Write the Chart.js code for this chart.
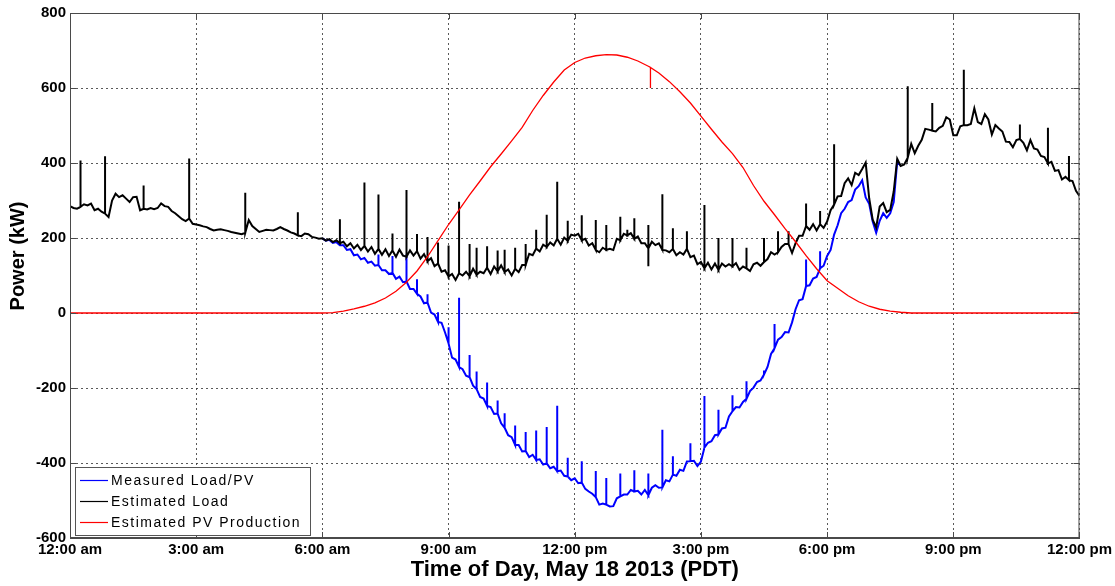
<!DOCTYPE html>
<html>
<head>
<meta charset="utf-8">
<title>Power, May 18 2013</title>
<script src="https://cdn.jsdelivr.net/npm/chart.js@4.4.1/dist/chart.umd.min.js"></script>
<style>
  html, body { margin: 0; padding: 0; background: #fff; }
  canvas { display: block; }
</style>
</head>
<body>
<canvas id="powerChart" width="1115" height="586"></canvas>
<script>
// x axis is hours since midnight, ticks every 3 h
const timeTicks = [0, 3, 6, 9, 12, 15, 18, 21, 24];
const timeLabels = ["12:00 am", "3:00 am", "6:00 am", "9:00 am", "12:00 pm", "3:00 pm", "6:00 pm", "9:00 pm", "12:00 pm"];
const powerTicks = [-600, -400, -200, 0, 200, 400, 600, 800];

// estimated load, one value every 5 minutes from 12:00 am (kW)
const loadStartMin = 0;
const loadKW = [
  285, 280, 278, 283, 290, 287, 292, 274, 278, 270, 265, 256,
  300, 318, 309, 314, 305, 296, 309, 310, 274, 278, 276, 280,
  277, 280, 292, 285, 283, 272, 266, 258, 250, 245, 252, 238,
  236, 234, 231, 229, 224, 220, 222, 223, 221, 219, 216, 214,
  212, 210, 214, 248, 232, 224, 216, 219, 222, 221, 220, 224,
  229, 224, 220, 215, 212, 207, 205, 212, 210, 203, 201, 198,
  199, 193, 197, 189, 194, 186, 190, 178, 186, 172, 182, 168,
  179, 164, 176, 158, 171, 155, 170, 152, 167, 150, 169, 153,
  150, 167, 153, 165, 145, 157, 138, 146, 125, 132, 110, 114,
  97, 104, 88, 106, 100, 110, 98, 118, 102, 110, 106, 121,
  104, 124, 111, 127, 109, 116, 100, 118, 109, 128, 128, 158,
  154, 172, 164, 182, 176, 188, 180, 198, 182, 201, 192, 209,
  206, 211, 194, 198, 180, 186, 168, 162, 174, 168, 171, 168,
  198, 194, 211, 207, 213, 198, 204, 186, 186, 172, 190, 181,
  186, 168, 167, 162, 171, 154, 162, 156, 171, 149, 153, 130,
  136, 119, 134, 116, 132, 115, 132, 124, 130, 124, 133, 115,
  124, 119, 112, 130, 134, 126, 136, 144, 162, 156, 162, 176,
  184, 184, 160, 186, 206, 206, 232, 222, 237, 220, 237, 227,
  244, 274, 289, 311, 312, 346, 359, 341, 374, 368, 384, 401,
  306, 249, 228, 284, 293, 269, 275, 324, 411, 392, 396, 414,
  451, 426, 446, 462, 491, 489, 486, 484, 494, 499, 522, 516,
  474, 474, 498, 501, 501, 504, 546, 509, 504, 530, 516, 476,
  501, 492, 484, 457, 456, 442, 461, 464, 454, 434, 461, 439,
  436, 419, 416, 399, 403, 379, 381, 356, 363, 354, 352, 326,
  312
];
// short load events (minute of day, peak kW)
const loadSpikeMin = [15, 50, 105, 170, 250, 325, 385, 420, 440, 460, 480, 495, 510, 525, 540, 555, 570, 580, 595, 610, 620, 635, 650, 665, 680, 695, 710, 730, 750, 765, 785, 795, 805, 825, 825, 845, 860, 880, 905, 925, 945, 965, 990, 1010, 1025, 1050, 1070, 1090, 1195, 1230, 1275, 1355, 1395, 1425];
const loadSpikeKW = [407, 418, 340, 412, 321, 269, 250, 348, 316, 212, 328, 211, 203, 188, 180, 297, 184, 174, 178, 167, 169, 174, 184, 222, 262, 350, 246, 261, 248, 235, 257, 222, 253, 235, 125, 317, 226, 218, 288, 200, 200, 174, 200, 218, 218, 292, 272, 450, 605, 560, 649, 503, 494, 419];

// measured net load/PV, every 5 minutes from 6:00 am (kW)
const measuredStartMin = 360;
const measuredKW = [
  199, 193, 195, 187, 189, 181, 181, 168, 170, 154, 156, 143,
  147, 134, 137, 126, 128, 114, 114, 104, 107, 91, 97, 82,
  84, 64, 64, 51, 44, 26, 28, 1, -4, -24, -26, -52,
  -81, -119, -124, -144, -150, -167, -171, -194, -203, -224, -228, -248,
  -251, -269, -268, -294, -306, -326, -331, -352, -352, -369, -368, -384,
  -378, -392, -390, -404, -401, -414, -410, -422, -420, -434, -436, -446,
  -441, -454, -452, -469, -476, -482, -491, -511, -508, -511, -516, -515,
  -494, -489, -484, -484, -472, -476, -474, -484, -472, -486, -466, -459,
  -466, -465, -446, -449, -431, -434, -418, -421, -396, -395, -394, -408,
  -396, -359, -346, -342, -326, -324, -308, -306, -276, -262, -251, -252,
  -237, -229, -208, -199, -184, -180, -164, -144, -109, -94, -71, -64,
  -51, -52, -25, 10, 34, 37, 72, 74, 92, 96, 119, 126,
  152, 168, 209, 234, 266, 278, 296, 301, 329, 338, 354, 308,
  291, 244, 214, 246, 266, 254, 266, 296, 404, 392
];
const measuredSpikeMin = [440, 460, 480, 495, 510, 525, 540, 555, 570, 580, 595, 610, 620, 635, 650, 665, 680, 695, 710, 730, 750, 765, 785, 805, 825, 845, 860, 885, 905, 925, 945, 965, 990, 1005, 1050, 1070];
const measuredSpikeKW = [156, 152, 156, 90, 50, 2, -38, 41, -112, -156, -185, -233, -267, -300, -317, -313, -304, -247, -386, -395, -421, -440, -428, -419, -428, -311, -382, -347, -221, -258, -219, -182, -153, -29, 143, 165];

// estimated PV production (hour of day, kW)
const pvHours = [0, 6, 6.25, 6.5, 6.75, 7, 7.25, 7.5, 7.75, 8, 8.25, 8.5, 8.75, 9, 9.25, 9.5, 9.75, 10, 10.25, 10.5, 10.75, 11, 11.25, 11.5, 11.75, 12, 12.25, 12.5, 12.75, 13, 13.25, 13.5, 13.75, 13.8, 13.8, 13.8, 14, 14.25, 14.5, 14.75, 15, 15.25, 15.5, 15.75, 16, 16.25, 16.5, 16.75, 17, 17.25, 17.5, 17.75, 18, 18.25, 18.5, 18.75, 19, 19.25, 19.5, 19.75, 20, 24];
const pvKW = [0, 0, 1, 5, 11, 18, 27, 40, 58, 82, 112, 150, 193, 236, 275, 315, 352, 390, 424, 459, 495, 540, 580, 616, 648, 668, 680, 686, 689, 688, 682, 672, 658, 655, 600, 655, 640, 617, 590, 560, 525, 490, 456, 425, 388, 340, 298, 262, 225, 190, 153, 118, 86, 66, 46, 30, 18, 10, 5, 2, 0, 0];

const FONT = "'Liberation Sans', Arial, Helvetica, sans-serif";
const AXIS_COLOR = "#4a4a4a";

// 5-minute samples -> points, with each spike drawn as a vertical stroke
function toPoints(startMin, values, spikeMin, spikeKW) {
    const pts = [];
    values.forEach((v, i) => {
        const m = startMin + i * 5;
        pts.push({ x: m / 60, y: v });
        spikeMin.forEach((s, j) => {
            if (s === m) {
                pts.push({ x: m / 60, y: spikeKW[j] });
                pts.push({ x: m / 60, y: v });
            }
        });
    });
    return pts;
}

const pvPoints = pvHours.map((h, i) => ({ x: h, y: pvKW[i] }));

// frame, inward ticks, y label and legend
const axesExtras = {
    id: "axesExtras",
    afterDraw(chart) {
        const { ctx, chartArea: a, scales } = chart;
        ctx.save();

        ctx.strokeStyle = AXIS_COLOR;
        ctx.lineWidth = 1;
        ctx.strokeRect(a.left + 0.5, a.top + 0.5, a.right - a.left - 1, a.bottom - a.top - 1);

        ctx.beginPath();
        powerTicks.forEach((v) => {
            const y = Math.round(scales.y.getPixelForValue(v)) + 0.5;
            ctx.moveTo(a.left, y); ctx.lineTo(a.left + 6, y);
            ctx.moveTo(a.right - 6, y); ctx.lineTo(a.right, y);
        });
        timeTicks.forEach((v) => {
            const x = Math.round(scales.x.getPixelForValue(v)) + 0.5;
            ctx.moveTo(x, a.bottom); ctx.lineTo(x, a.bottom - 6);
            ctx.moveTo(x, a.top); ctx.lineTo(x, a.top + 6);
        });
        ctx.stroke();

        // y axis label
        ctx.save();
        ctx.translate(18, 256);
        ctx.rotate(-Math.PI / 2);
        ctx.fillStyle = "#000";
        ctx.font = "bold 20px " + FONT;
        ctx.textAlign = "center";
        ctx.textBaseline = "middle";
        ctx.fillText("Power (kW)", 0, 0);
        ctx.restore();

        // legend box, lower left
        const bx = a.left + 5, by = a.bottom - 71, bw = 235, bh = 68;
        ctx.fillStyle = "#fff";
        ctx.fillRect(bx, by, bw, bh);
        ctx.strokeStyle = "#555";
        ctx.strokeRect(bx + 0.5, by + 0.5, bw, bh);
        ctx.font = "14px " + FONT;
        ctx.letterSpacing = "1.5px";
        ctx.textBaseline = "middle";
        ctx.textAlign = "left";
        chart.data.datasets.forEach((ds, i) => {
            const y = by + 13 + i * 21;
            ctx.strokeStyle = ds.borderColor;
            ctx.lineWidth = 1.2;
            ctx.beginPath();
            ctx.moveTo(bx + 5, y + 0.5);
            ctx.lineTo(bx + 33, y + 0.5);
            ctx.stroke();
            ctx.fillStyle = "#000";
            ctx.fillText(ds.label, bx + 36, y + 1);
        });
        ctx.restore();
    },
};

const tickFont = { family: FONT, size: 15, weight: "bold" };
const gridStyle = { color: "rgba(60, 60, 60, 0.85)", lineWidth: 1, drawTicks: false };

new Chart(document.getElementById("powerChart"), {
    type: "line",
    data: {
        datasets: [
            {
                label: "Measured Load/PV",
                data: toPoints(measuredStartMin, measuredKW, measuredSpikeMin, measuredSpikeKW),
                borderColor: "#0000ff",
                borderWidth: 2,
                pointRadius: 0,
                order: 3,
            },
            {
                label: "Estimated Load",
                data: toPoints(loadStartMin, loadKW, loadSpikeMin, loadSpikeKW),
                borderColor: "#000000",
                borderWidth: 2,
                pointRadius: 0,
                order: 2,
            },
            {
                label: "Estimated PV Production",
                data: pvPoints,
                borderColor: "#ff0000",
                borderWidth: 1.3,
                pointRadius: 0,
                order: 1,
            },
        ],
    },
    options: {
        responsive: false,
        animation: false,
        layout: { padding: { top: 10, right: 35, left: 0, bottom: 0 } },
        plugins: {
            legend: { display: false },
            tooltip: { enabled: false },
        },
        scales: {
            x: {
                type: "linear",
                min: 0,
                max: 24,
                afterBuildTicks: (scale) => {
                    scale.ticks = timeTicks.map((v) => ({ value: v }));
                },
                afterFit: (scale) => {
                    scale.height = 48;
                },
                ticks: {
                    callback: (v) => timeLabels[timeTicks.indexOf(v)],
                    font: tickFont,
                    color: "#000",
                    padding: 3,
                    maxRotation: 0,
                    autoSkip: false,
                },
                grid: gridStyle,
                border: { display: true, color: AXIS_COLOR, dash: [2, 3] },
                title: {
                    display: true,
                    text: "Time of Day, May 18 2013 (PDT)",
                    font: { family: FONT, size: 22, weight: "bold" },
                    color: "#000",
                    padding: { top: 0, bottom: 3 },
                },
            },
            y: {
                min: -600,
                max: 800,
                afterBuildTicks: (scale) => {
                    scale.ticks = powerTicks.map((v) => ({ value: v }));
                },
                afterFit: (scale) => {
                    scale.width = 70;
                },
                ticks: {
                    font: tickFont,
                    color: "#000",
                    padding: 4,
                },
                grid: gridStyle,
                border: { display: true, color: AXIS_COLOR, dash: [2, 3] },
            },
        },
    },
    plugins: [axesExtras],
});
</script>
</body>
</html>
